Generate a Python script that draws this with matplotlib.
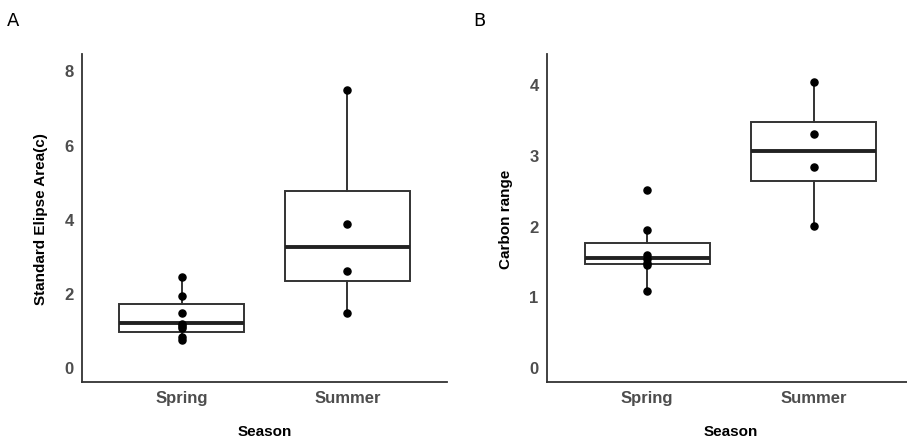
import matplotlib
matplotlib.use("Agg")
import matplotlib.pyplot as plt

plt.rcParams['font.family'] = ['Liberation Sans', 'DejaVu Sans']

seasons = ['Spring', 'Summer']

# panel A: standard ellipse area (SEAc)
sea_spring = [0.74, 0.82, 1.06, 1.12, 1.16, 1.45, 1.92, 2.44]
sea_summer = [1.46, 2.60, 3.85, 7.47]
sea_q1 = [0.96, 2.31]
sea_med = [1.18, 3.23]
sea_q3 = [1.69, 4.75]
sea_lo = [0.74, 1.46]
sea_hi = [2.44, 7.47]

# panel B: carbon range
cr_spring = [1.08, 1.44, 1.48, 1.53, 1.58, 1.94, 2.51]
cr_summer = [2.00, 2.83, 3.30, 4.03]
cr_q1 = [1.46, 2.63]
cr_med = [1.54, 3.06]
cr_q3 = [1.76, 3.47]
cr_lo = [1.08, 2.00]
cr_hi = [1.94, 4.03]

EDGE = '#333333'
TICK = '#4d4d4d'
W, H = 907, 439


def panel(ax, points, q1, med, q3, lo, hi, ylabel, yticks, ylim):
    stats = []
    for i in range(len(seasons)):
        stats.append({'q1': q1[i], 'med': med[i], 'q3': q3[i],
                      'whislo': lo[i], 'whishi': hi[i], 'fliers': []})
    ax.bxp(stats, positions=[1, 2], widths=0.75, showcaps=False,
           patch_artist=True,
           boxprops=dict(facecolor='white', edgecolor=EDGE, linewidth=1.4),
           medianprops=dict(color='#222222', linewidth=2.8),
           whiskerprops=dict(color=EDGE, linewidth=1.4))
    for i, vals in enumerate(points):
        ax.scatter([i + 1] * len(vals), vals, s=26, color='black', zorder=5)

    ax.set_xlim(0.4, 2.6)
    ax.set_ylim(*ylim)
    ax.set_xticks([1, 2])
    ax.set_xticklabels(seasons)
    ax.set_yticks(yticks)
    ax.tick_params(length=0, labelsize=12, labelcolor=TICK, pad=6)
    for lab in ax.get_xticklabels() + ax.get_yticklabels():
        lab.set_fontweight('bold')
    for s in ['top', 'right']:
        ax.spines[s].set_visible(False)
    for s in ['left', 'bottom']:
        ax.spines[s].set_color(EDGE)
        ax.spines[s].set_linewidth(1.3)
    ax.set_xlabel('Season', fontsize=11, fontweight='bold')
    ax.xaxis.set_label_coords(0.5, -0.128)
    ax.set_ylabel(ylabel, fontsize=11, fontweight='bold', labelpad=12)


fig = plt.figure(figsize=(9.07, 4.39), dpi=100)
axA = fig.add_axes([82 / W, 1 - 383 / H, 365 / W, 328 / H])
axB = fig.add_axes([547 / W, 1 - 383 / H, 367 / W, 328 / H])

panel(axA, [sea_spring, sea_summer], sea_q1, sea_med, sea_q3, sea_lo, sea_hi,
      'Standard Elipse Area(c)', [0, 2, 4, 6, 8], (-0.40, 8.44))
panel(axB, [cr_spring, cr_summer], cr_q1, cr_med, cr_q3, cr_lo, cr_hi,
      'Carbon range', [0, 1, 2, 3, 4], (-0.21, 4.43))

fig.text(7 / W, 1 - 21 / H, 'A', fontsize=13, va='center', family='DejaVu Sans')
fig.text(473 / W, 1 - 21 / H, 'B', fontsize=13, va='center', family='DejaVu Sans')

fig.savefig('out.png', dpi=100)
